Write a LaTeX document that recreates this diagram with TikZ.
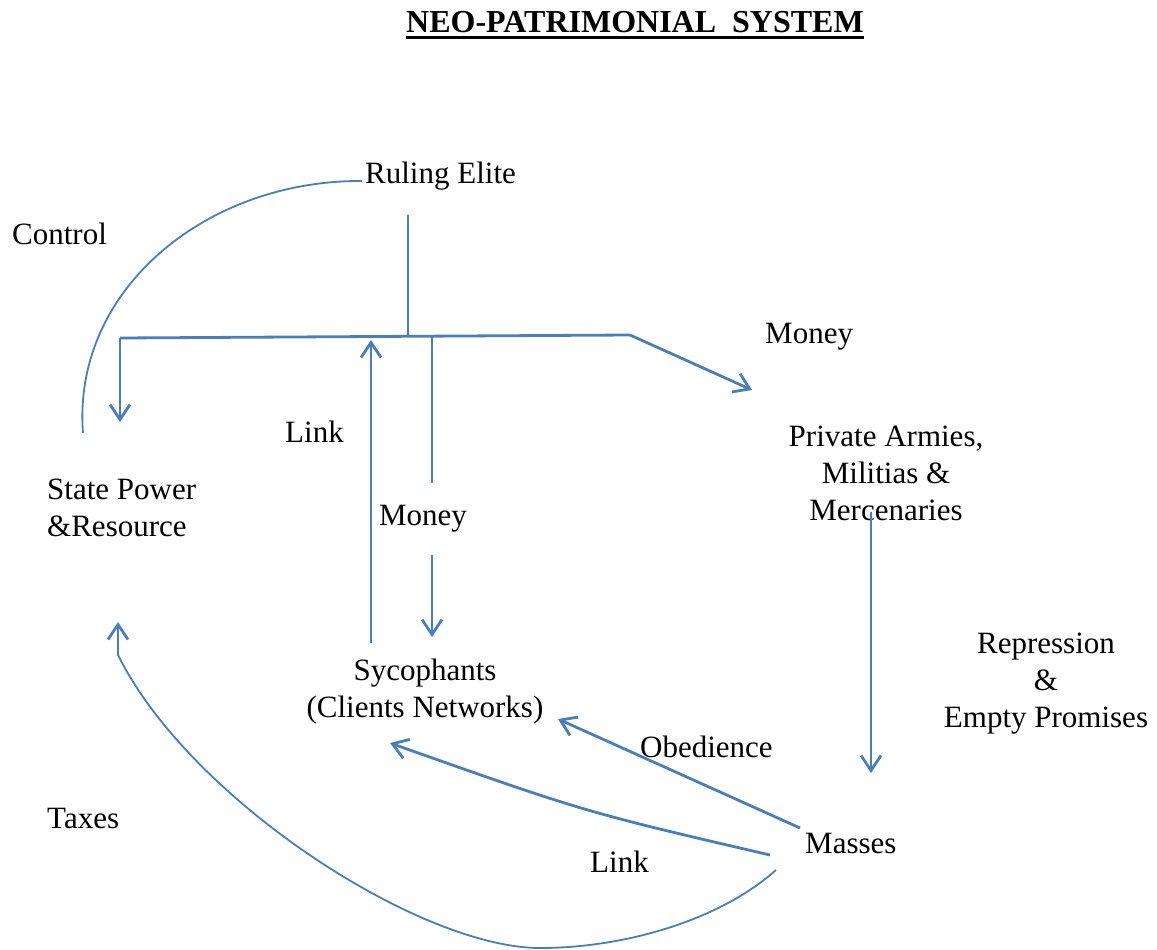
\documentclass[tikz,border=0pt]{standalone}
\usepackage{fontspec}
\setmainfont{Liberation Serif}
\usetikzlibrary{arrows.meta}
\definecolor{wire}{RGB}{74,126,187}

\begin{document}
\begin{tikzpicture}[x = 1pt, y = -1pt,
	> = {Straight Barb[length = 15pt, width = 20pt]},
	txt/.style = {inner sep = 0pt, font = \fontsize{31}{37}\selectfont},
	flow/.style = {draw = wire, line width = 2.8pt},
	arc/.style = {draw = wire, line width = 1.8pt}]

	% Frame

	\useasboundingbox (0, 0) rectangle (1157, 950);

	% Title

	\node [txt, anchor = base, font = \fontsize{32}{37}\selectfont\bfseries] (title) at (635, 33) {NEO-PATRIMONIAL\ \ SYSTEM};
	\draw [line width = 3pt] ([yshift = -5pt] title.base west) -- ([yshift = -5pt] title.base east);

	% Labels (multi-line nodes sit on their last baseline)

	\node [txt, anchor = base west] (elite) at (365, 183) {Ruling Elite};
	\node [txt, anchor = base west] (control) at (12, 244) {Control};
	\node [txt, anchor = base west] (moneyA) at (765, 343) {Money};
	\node [txt, anchor = base, align = center] (armies) at (886, 520) {Private Armies,\\Militias \&\\Mercenaries};
	\node [txt, anchor = base west] (linkA) at (285, 442) {Link};
	\node [txt, anchor = base west, align = left] (state) at (47, 536) {State Power\\\&Resource};
	\node [txt, minimum height = 72pt] (moneyB) at (423, 519) {Money};
	\node [txt, anchor = base, align = center] (syco) at (425, 717) {Sycophants\\(Clients Networks)};
	\node [txt, anchor = base, align = center] (repress) at (1046, 727) {Repression\\\&\\Empty Promises};
	\node [txt, anchor = base west] (obey) at (640, 757) {Obedience};
	\node [txt, anchor = base west] (taxes) at (47, 828) {Taxes};
	\node [txt, anchor = base west] (masses) at (805, 853) {Masses};
	\node [txt, anchor = base west] (linkB) at (590, 872) {Link};

	% Junctions

	\coordinate (trunk) at (408, 215);
	\coordinate (trunkFoot) at (408, 336);
	\coordinate (hubW) at (120, 338);
	\coordinate (hubE) at (630, 335);
	\coordinate (stateIn) at (120, 422);
	\coordinate (armiesIn) at (752, 390);
	\coordinate (linkFoot) at (371, 643);
	\coordinate (linkTop) at (371, 340);
	\coordinate (payTop) at (432, 336);
	\coordinate (sycoIn) at (432, 637);
	\coordinate (armiesOut) at (871, 512);
	\coordinate (massesIn) at (871, 773);
	\coordinate (obeyOut) at (800, 828);
	\coordinate (obeyIn) at (558, 719);
	\coordinate (linkOut) at (770, 855);
	\coordinate (linkIn) at (390, 743);
	\coordinate (taxOut) at (776, 870);
	\coordinate (taxIn) at (118, 655);
	\coordinate (stateUp) at (118, 622);
	\coordinate (grip) at (83, 433);
	\coordinate (eliteW) at (362, 181);

	% Elite to the hub

	\draw [flow] (trunk) -- (trunkFoot);
	\draw [flow] (hubW) -- (hubE);
	\draw [flow, ->] (hubW) -- (stateIn);
	\draw [flow, ->] (hubE) -- (armiesIn);

	% Sycophants

	\draw [flow, ->] (linkFoot) -- (linkTop);
	\draw [flow] (payTop) -- (moneyB.north -| payTop);
	\draw [flow, ->] (moneyB.south -| payTop) -- (sycoIn);

	% Armies and masses

	\draw [flow, ->] (armiesOut) -- (massesIn);
	\draw [flow, ->] (obeyOut) -- (obeyIn);
	\draw [flow, ->] (linkOut) .. controls (585, 812) .. (linkIn);

	% Taxes and control

	\draw [arc] (taxOut) .. controls (720, 920) and (625, 948) .. (540, 948) .. controls (420, 948) and (190, 800) .. (taxIn);
	\draw [flow, ->] (taxIn) -- (stateUp);
	\draw [arc] (grip) .. controls (72, 290) and (206, 180) .. (eliteW);

\end{tikzpicture}
\end{document}
